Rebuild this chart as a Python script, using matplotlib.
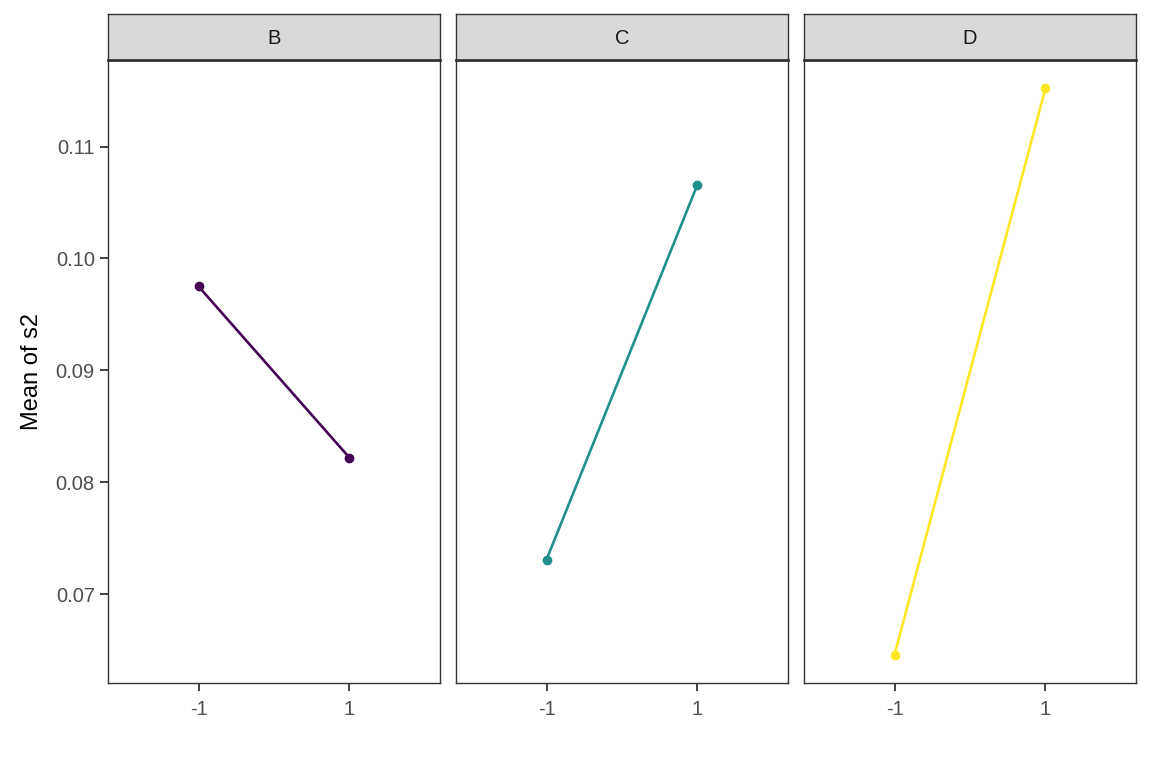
import numpy as np
import matplotlib.pyplot as plt

# === Dane ===
facets = ['B', 'C', 'D']
levels = ['-1', '1']
means_B = [0.0975, 0.0822]
means_C = [0.0731, 0.1066]
means_D = [0.0646, 0.1152]
colors = ['#440154', '#21908C', '#FDE725']

plt.rcParams['font.family'] = ['Liberation Sans', 'DejaVu Sans']

fig = plt.figure(figsize=(11.52, 7.68), dpi=100)

all_vals = np.array(means_B + means_C + means_D)
span = all_vals.max() - all_vals.min()
ylim = (all_vals.min() - 0.05 * span, all_vals.max() + 0.05 * span)

lefts = [108, 456, 804]
panel_w = 332
top_px, bottom_px, strip_top = 60, 683, 14
W, H = 1152, 768

for i, (name, vals, col) in enumerate(zip(facets, [means_B, means_C, means_D], colors)):
    ax = fig.add_axes([lefts[i] / W, 1 - bottom_px / H, panel_w / W, (bottom_px - top_px) / H])
    x = np.arange(1, len(levels) + 1)
    ax.plot(x, vals, color=col, lw=1.9, marker='o', ms=6, zorder=3)
    ax.set_xlim(0.4, 2.6)
    ax.set_ylim(*ylim)
    ax.set_xticks(x)
    ax.set_xticklabels(levels)
    ax.set_yticks([0.07, 0.08, 0.09, 0.10, 0.11])
    ax.set_yticklabels(['0.07', '0.08', '0.09', '0.10', '0.11'])
    ax.tick_params(colors='#333333', labelcolor='#4d4d4d', labelsize=14.5,
                   length=5.5, width=1.3, pad=4)
    ax.tick_params(axis='x', pad=7)
    for s in ax.spines.values():
        s.set_color('#333333')
        s.set_linewidth(1.0)
    if i == 0:
        ax.set_ylabel('Mean of s2', fontsize=17, labelpad=9)
    else:
        ax.tick_params(axis='y', left=False, labelleft=False)

    # pasek z nazwa panelu
    sax = fig.add_axes([lefts[i] / W, 1 - top_px / H, panel_w / W, (top_px - strip_top) / H])
    sax.set_facecolor('#d9d9d9')
    sax.set_xticks([])
    sax.set_yticks([])
    for s in sax.spines.values():
        s.set_color('#333333')
        s.set_linewidth(1.0)
    sax.spines['bottom'].set_linewidth(2.0)
    sax.text(0.5, 0.46, name, ha='center', va='center', fontsize=14.5,
             color='#1a1a1a', transform=sax.transAxes)

fig.savefig('out.png', dpi=100)
